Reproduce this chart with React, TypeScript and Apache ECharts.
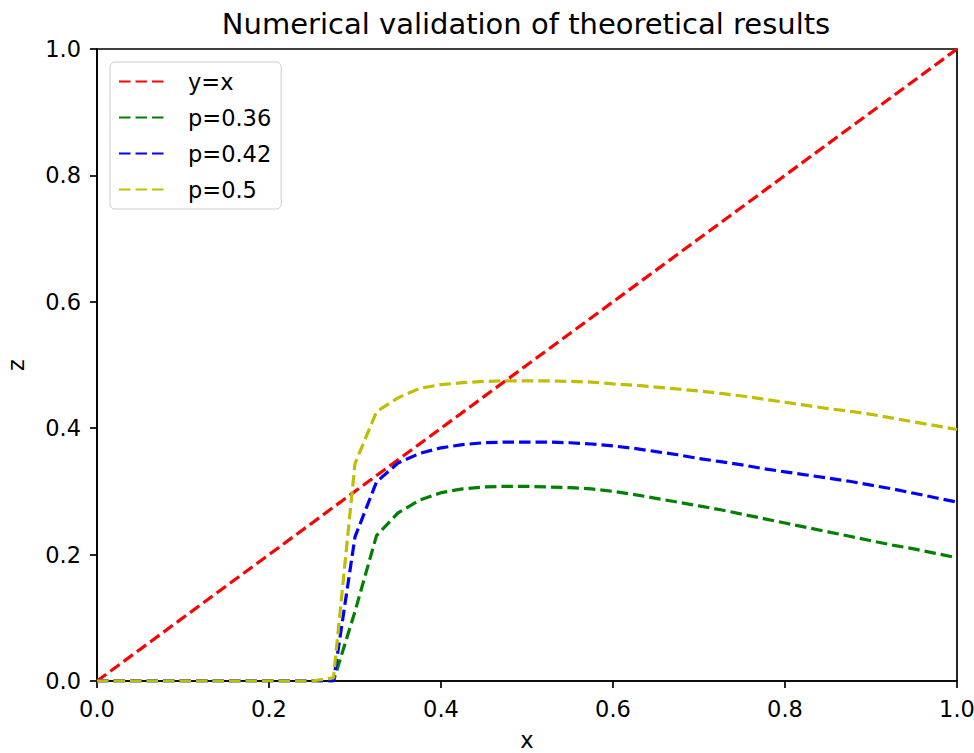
import React, { useEffect, useRef } from "react";
import * as echarts from "echarts";

const xs = [
  0, 0.025, 0.05, 0.075, 0.1, 0.125, 0.15, 0.175, 0.2, 0.225, 0.25, 0.275,
  0.3, 0.325, 0.35, 0.375, 0.4, 0.425, 0.45, 0.475, 0.5, 0.525, 0.55, 0.575,
  0.6, 0.625, 0.65, 0.675, 0.7, 0.725, 0.75, 0.775, 0.8, 0.825, 0.85, 0.875,
  0.9, 0.925, 0.95, 0.975, 1.0,
];

const p036 = [
  0, 0, 0, 0, 0, 0, 0, 0, 0, 0, 0, 0,
  0.11, 0.23, 0.266, 0.286, 0.298, 0.304, 0.307, 0.308, 0.308, 0.307, 0.306, 0.304,
  0.300, 0.295, 0.289, 0.283, 0.277, 0.271, 0.264, 0.257, 0.250, 0.243, 0.236, 0.229,
  0.222, 0.215, 0.209, 0.202, 0.195,
];

const p042 = [
  0, 0, 0, 0, 0, 0, 0, 0, 0, 0, 0, 0,
  0.228, 0.315, 0.345, 0.36, 0.369, 0.374, 0.377, 0.378, 0.378, 0.378, 0.377, 0.375,
  0.372, 0.368, 0.363, 0.358, 0.352, 0.347, 0.342, 0.336, 0.331, 0.326, 0.321, 0.316,
  0.310, 0.304, 0.297, 0.290, 0.283,
];

const p05 = [
  0, 0, 0, 0, 0, 0, 0, 0, 0, 0, 0, 0.005,
  0.344, 0.426, 0.448, 0.463, 0.469, 0.472, 0.474, 0.475, 0.475, 0.475, 0.474, 0.473,
  0.470, 0.468, 0.465, 0.462, 0.459, 0.455, 0.451, 0.446, 0.441, 0.436, 0.431, 0.427,
  0.422, 0.416, 0.410, 0.404, 0.398,
];

const identityX = [0, 1];
const tickVals = [0, 0.2, 0.4, 0.6, 0.8, 1.0];

const FONT = "DejaVu Sans";
const FS = 22.5;

export default function App() {
  const ref = useRef<HTMLDivElement>(null);
  useEffect(() => {
    if (!ref.current) return;
    const chart = echarts.init(ref.current, undefined, { renderer: "svg" });
    const pairs = (ys: number[]) => xs.map((x, i) => [x, ys[i]]);
    const dash = [11.5, 5];
    const mk = (name: string, color: string, data: number[][]) => ({
      name,
      type: "line",
      data,
      showSymbol: false,
      symbol: "none",
      color,
      lineStyle: { color, width: 3.2, type: dash },
      itemStyle: { color },
    });
    const axisCommon = {
      type: "value",
      min: tickVals[0],
      max: tickVals[tickVals.length - 1],
      interval: 0.2,
      splitLine: { show: false },
      axisLine: { show: true, onZero: false, lineStyle: { color: "#000", width: 1.7 } },
      axisTick: { show: true, inside: false, length: 7, lineStyle: { color: "#000", width: 1.7 } },
      axisLabel: {
        color: "#000",
        fontFamily: FONT,
        fontSize: FS,
        margin: 16,
        formatter: (v: number) => v.toFixed(1),
      },
      nameTextStyle: { color: "#000", fontFamily: FONT, fontSize: FS },
    };
    chart.setOption({
      animation: false,
      backgroundColor: "#fff",
      title: {
        text: "Numerical validation of theoretical results",
        left: 521,
        textAlign: "center",
        top: 4,
        textStyle: { fontFamily: FONT, fontSize: 29, fontWeight: "normal", color: "#000" },
      },
      grid: {
        left: 97,
        right: 17,
        top: 49,
        bottom: 72,
        containLabel: false,
        outerBoundsMode: "none",
        show: true,
        borderColor: "#000",
        borderWidth: 1.7,
        backgroundColor: "transparent",
      },
      legend: {
        orient: "vertical",
        left: 110,
        top: 62,
        padding: [7, 10, 7, 8],
        itemWidth: 48,
        itemHeight: 14,
        itemGap: 11,
        backgroundColor: "rgba(255,255,255,0.8)",
        borderColor: "#cccccc",
        borderWidth: 1,
        borderRadius: 5,
        itemStyle: { opacity: 0 },
        textStyle: {
          fontFamily: FONT,
          fontSize: FS,
          color: "#000",
          lineHeight: 25,
          padding: [0, 0, 0, 16],
        },
        data: ["y=x", "p=0.36", "p=0.42", "p=0.5"],
      },
      xAxis: {
        ...axisCommon,
        name: "x",
        nameLocation: "middle",
        nameGap: 47,
      },
      yAxis: {
        ...axisCommon,
        name: "z",
        nameLocation: "middle",
        nameGap: 70,
      },
      series: [
        mk("y=x", "#ff0000", identityX.map((x) => [x, x])),
        mk("p=0.36", "#008000", pairs(p036)),
        mk("p=0.42", "#0000ff", pairs(p042)),
        mk("p=0.5", "#bfbf00", pairs(p05)),
      ],
    });
    return () => chart.dispose();
  }, []);
  return (
    <div
      ref={ref}
      style={{ position: "fixed", left: 0, top: 0, width: 974, height: 753 }}
    />
  );
}
